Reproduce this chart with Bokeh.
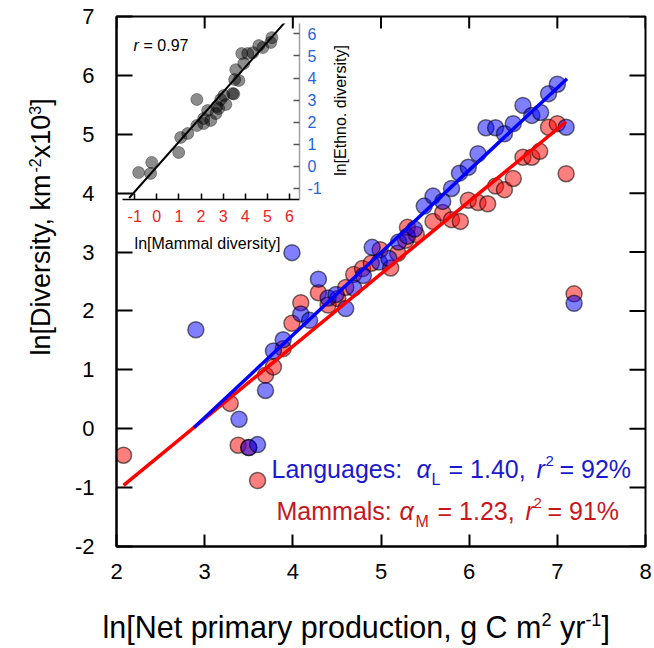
import math
from bokeh.plotting import figure
from bokeh.models import Label, FixedTicker, Range1d
from bokeh.embed import file_html
from bokeh.resources import INLINE

# ---------------- data ----------------
lang_x = [2.90, 3.39, 3.50, 3.60, 3.69, 3.78, 3.89, 3.99, 4.09, 4.19,
          4.29, 4.40, 4.49, 4.60, 4.69, 4.80, 4.90, 4.98, 5.09, 5.20,
          5.30, 5.38, 5.49, 5.59, 5.70, 5.80, 5.89, 5.99, 6.10, 6.19,
          6.30, 6.40, 6.50, 6.61, 6.71, 6.81, 6.90, 7.00, 7.10, 7.19]
lang_y = [1.68, 0.16, -0.32, -0.27, 0.65, 1.32, 1.51, 2.99, 1.95, 1.84,
          2.54, 2.22, 2.28, 2.04, 2.39, 2.60, 3.08, 2.83, 2.89, 3.17,
          3.27, 3.39, 3.78, 3.95, 3.86, 4.08, 4.34, 4.44, 4.67, 5.11,
          5.11, 5.01, 5.18, 5.49, 5.32, 5.37, 5.69, 5.85, 5.12, 2.13]
mam_x = [2.08, 3.29, 3.38, 3.50, 3.60, 3.69, 3.78, 3.89, 3.99, 4.09,
         4.29, 4.40, 4.51, 4.60, 4.69, 4.79, 4.89, 4.99, 5.11, 5.19,
         5.28, 5.30, 5.40, 5.59, 5.70, 5.80, 5.90, 5.99, 6.10, 6.21,
         6.30, 6.40, 6.50, 6.61, 6.71, 6.80, 6.90, 7.00, 7.10, 7.19]
mam_y = [-0.45, 0.43, -0.28, -0.32, -0.88, 0.91, 1.05, 1.36, 1.79, 2.14,
         2.31, 2.10, 2.21, 2.40, 2.62, 2.72, 2.81, 3.04, 2.73, 2.98,
         3.20, 3.42, 3.30, 3.52, 3.67, 3.55, 3.52, 3.88, 3.84, 3.82,
         4.12, 4.06, 4.25, 4.61, 4.61, 4.71, 5.12, 5.18, 4.33, 2.29]

lang_slope, lang_intercept, lang_fit_x = 1.40, -4.01, [2.88, 7.11]
mam_slope, mam_intercept, mam_fit_x = 1.23, -3.52, [2.08, 7.10]

ins_x = [-0.82, -0.23, -0.28, 0.99, 1.08, 1.40, 1.81, 1.81, 2.12, 2.12,
         2.30, 2.44, 2.67, 2.71, 2.80, 2.89, 3.03, 3.12, 3.43, 3.48,
         3.52, 3.57, 3.71, 3.84, 3.93, 4.11, 4.34, 4.61, 4.79, 5.15, 5.20]
ins_y = [-0.28, 0.18, -0.32, 0.63, 1.31, 1.49, 3.03, 1.85, 2.17, 1.94,
         2.53, 2.08, 2.39, 2.71, 2.62, 3.03, 3.21, 2.80, 3.30, 3.28,
         3.93, 4.38, 3.89, 5.11, 4.66, 5.11, 5.15, 5.47, 5.38, 5.61, 5.83]
ins_slope, ins_intercept, ins_fit_x = 1.13, -0.02, [-1.25, 5.80]

x_ticks = [2, 3, 4, 5, 6, 7, 8]
y_ticks = [-2, -1, 0, 1, 2, 3, 4, 5, 6, 7]
ins_ticks = [-1, 0, 1, 2, 3, 4, 5, 6]

FONT = "Liberation Sans"
BLUE_TXT = "#1a1acd"
RED_TXT = "#c8161d"
BASE_FIX = 0.31  # em shift to turn Bokeh's text bottom into the alphabetic baseline

# Arial / Liberation Sans advance widths (1/1000 em)
W = {' ': 278, '[': 278, ']': 278, ',': 278, '.': 278, ':': 278, '-': 333, '=': 584, '%': 889,
     'a': 556, 'b': 556, 'c': 500, 'd': 556, 'e': 556, 'f': 278, 'g': 556, 'h': 556, 'i': 222,
     'k': 500, 'l': 222, 'm': 833, 'n': 556, 'o': 556, 'p': 556, 'r': 333, 's': 500, 't': 278,
     'u': 556, 'v': 500, 'x': 500, 'y': 500, 'C': 722, 'D': 722, 'N': 722}


def tw(s, size):
    return sum(W.get(c, 556) for c in s) / 1000.0 * size


def place(left, top):
    return {"position": "absolute", "left": f"{left}px", "top": f"{top}px"}


def style_axis(ax, ticks, size, tick_in, lw=2, color="black", line_color="black",
               tick_color="black", standoff=10):
    ax.ticker = FixedTicker(ticks=ticks)
    ax.major_tick_in = tick_in
    ax.major_tick_out = 0
    ax.minor_tick_line_color = None
    ax.axis_line_width = lw
    ax.axis_line_color = line_color
    ax.major_tick_line_width = lw
    ax.major_tick_line_color = tick_color
    ax.major_label_text_font = FONT
    ax.major_label_text_color = color
    ax.major_label_text_font_size = f"{size}px"
    ax.major_label_standoff = standoff
    ax.major_label_overrides = {t: str(t) for t in ticks}


# ---------------- main figure ----------------
p = figure(frame_width=529, frame_height=530, x_range=Range1d(2, 8), y_range=Range1d(-2, 7),
           output_backend="svg", toolbar_location=None,
           min_border_left=116, min_border_right=8, min_border_top=16, min_border_bottom=90,
           background_fill_color="white", border_fill_color="white",
           outline_line_color="black", outline_line_width=2, styles=place(0, 0))
p.grid.visible = False
style_axis(p.xaxis[0], x_ticks, 22, 12, standoff=17)
style_axis(p.yaxis[0], y_ticks, 22, 16, standoff=22)

# inward ticks on the right and top edges (outer half of each dash is clipped by the frame)
p.scatter([p.x_range.end] * len(y_ticks), y_ticks, marker="dash", size=32,
          line_color="black", line_width=2)
p.scatter(x_ticks, [p.y_range.end] * len(x_ticks), marker="dash", size=24, angle=math.pi / 2,
          line_color="black", line_width=2)

p.scatter(mam_x, mam_y, size=16, fill_color="#ff0000", fill_alpha=0.5,
          line_color="black", line_alpha=0.55, line_width=1.5)
p.scatter(lang_x, lang_y, size=16, fill_color="#0000ff", fill_alpha=0.5,
          line_color="black", line_alpha=0.55, line_width=1.5)
p.line(mam_fit_x, [mam_slope * x + mam_intercept for x in mam_fit_x],
       line_color="#ff0000", line_width=3.5)
p.line(lang_fit_x, [lang_slope * x + lang_intercept for x in lang_fit_x],
       line_color="#0000ff", line_width=3.5)

# ---------------- inset ----------------
ins = figure(frame_width=177, frame_height=176, x_range=Range1d(-1.55, 6.45),
             y_range=Range1d(-1.5, 6.47), y_axis_location="right",
             output_backend="svg", toolbar_location=None,
             min_border_left=0, min_border_top=0, min_border_right=30, min_border_bottom=32,
             background_fill_alpha=0, border_fill_alpha=0, outline_line_color=None,
             styles=place(122, 23))
ins.grid.visible = False
style_axis(ins.xaxis[0], ins_ticks, 16, 6, lw=1.5, color="#ee2222", standoff=10)
style_axis(ins.yaxis[0], ins_ticks, 16, 6, lw=1.5, color="#1f66d8", line_color="#a0a0a0",
           tick_color="#555555", standoff=8)
ins.scatter(ins_x, ins_y, size=12, fill_color="black", fill_alpha=0.45,
            line_color="black", line_alpha=0.35, line_width=1)
ins.line(ins_fit_x, [ins_slope * x + ins_intercept for x in ins_fit_x],
         line_color="black", line_width=2)

# ---------------- text overlay (page pixel coordinates) ----------------
ov = figure(width=654, height=648, x_range=Range1d(0, 654), y_range=Range1d(648, 0),
            x_axis_location=None, y_axis_location=None, min_border=0,
            output_backend="svg", toolbar_location=None,
            background_fill_alpha=0, border_fill_alpha=0, outline_line_color=None,
            styles=place(0, 0))
ov.grid.visible = False


def put(text, x, y, size, color="black", style="normal", angle=0, align="left"):
    """Place text with its alphabetic baseline at (x, y) page px."""
    if angle == 0:
        y = y - BASE_FIX * size
    else:  # rotated 90 deg counter-clockwise: "up" is towards smaller x
        x = x - BASE_FIX * size
    ov.add_layout(Label(x=x, y=y, text=text, text_font=FONT, text_font_size=f"{size}px",
                        text_color=color, text_font_style=style, angle=angle,
                        text_align=align, text_baseline="alphabetic"))


# x-axis title: (text, size, raise, extra gap after)
xt = [("ln[Net primary production, g C m", 30.5, 0, 0), ("2", 18, 11, tw(" ", 30.5)),
      ("yr", 30.5, 0, 0), ("-1", 18, 11, 0), ("]", 30.5, 0, 0)]
cx = 102
for t, s, r, gap in xt:
    put(t, cx, 636 - r, s)
    cx += tw(t, s) + gap

yt = [("ln[Diversity, km", 27, 0), ("-2", 16, 10), ("x10", 27, 0), ("3", 16, 10), ("]", 27, 0)]
cy = 355
for t, s, r in yt:
    put(t, 49 - r, cy, s, angle=math.pi / 2)
    cy -= tw(t, s)

line1 = [("Languages:", 271, 476, 25, "normal"), ("α", 416, 476, 25, "italic"),
         ("L", 431, 484, 16, "normal"), ("= 1.40,", 448, 476, 25, "normal"),
         ("r", 536, 476, 25, "italic"), ("2", 545, 465, 15, "normal"),
         ("= 92%", 559, 476, 25, "normal")]
line2 = [("Mammals:", 276, 518, 25, "normal"), ("α", 399, 518, 25, "italic"),
         ("M", 415, 526, 16, "normal"), ("= 1.23,", 437, 518, 25, "normal"),
         ("r", 525, 518, 25, "italic"), ("2", 533, 507, 15, "normal"),
         ("= 91%", 547, 518, 25, "normal")]
for t, px, py, s, st in line1:
    put(t, px, py, s, BLUE_TXT, st)
for t, px, py, s, st in line2:
    put(t, px, py, s, RED_TXT, st)

put("r", 133, 50, 16, style="italic")
put("= 0.97", 143, 50, 16)
put("ln[Mammal diversity]", 207, 248, 16, align="center")
ov.add_layout(Label(x=340, y=110, text="ln[Ethno. diversity]", text_font=FONT,
                    text_font_size="16px", text_color="black", angle=math.pi / 2,
                    text_align="center", text_baseline="middle"))

open("out.html", "w").write(file_html([p, ins, ov], INLINE))
